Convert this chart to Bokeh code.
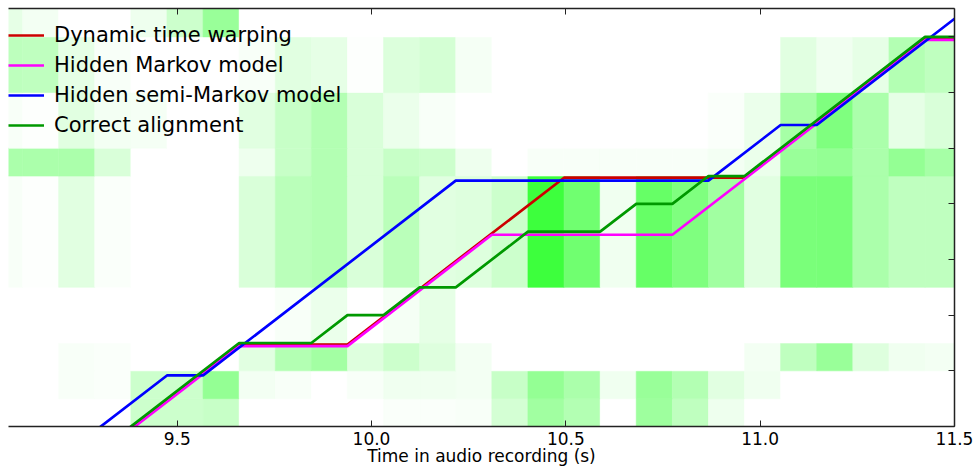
from bokeh.plotting import figure
from bokeh.models import (Range1d, LinearAxis, FixedTicker, PrintfTickFormatter,
                          Legend, LegendItem, ColumnDataSource, CustomLabelingPolicy)
from bokeh.transform import linear_cmap
from bokeh.embed import file_html
from bokeh.resources import INLINE

# Analysis frames: hop of 2048 samples at 22.05 kHz
HOP = 2048 / 22050
frames = list(range(97, 124))          # one column per frame

# Score-position rows (lower, upper edge) and per-frame observation likelihoods
row_edges = [(0.0, 0.5), (0.5, 1.0), (1.0, 1.5), (1.5, 2.5), (2.5, 4.5),
             (4.5, 5.0), (5.0, 6.0), (6.0, 7.0), (7.0, 8.0)]
row_a = [0, 0, 0, 0, .20, .20, .22, 0, 0, 0, 0, .02, .02, .03, .17, .37, .30, 0, .38, .25, .07, 0, 0, 0, 0, 0, 0]
row_b = [0, 0, .03, .02, .20, .20, .42, .05, .03, 0, .03, .06, .06, .05, .22, .42, .33, .06, .40, .30, .12, .06, 0, 0, 0, 0, 0]
row_c = [0, 0, .03, .02, 0, 0, 0, .12, .30, .36, .13, .20, .13, .05, 0, 0, 0, 0, 0, 0, 0, .05, .25, .40, .13, .06, .05]
row_d = [0, 0, 0, 0, 0, 0, 0, 0, .03, .08, 0, .04, .10, 0, 0, 0, 0, 0, 0, 0, 0, 0, 0, 0, 0, 0, 0]
row_e = [.03, .01, .12, .02, 0, 0, 0, .15, .27, .30, .15, .27, .12, .13, .20, .76, .56, .06, .60, .50, .37, .12, .52, .53, .33, .25, .25]
row_f = [.33, .33, .33, .15, 0, 0, 0, .07, .22, .30, .15, .22, .20, .07, 0, .03, .03, .03, .03, .03, .05, .08, .40, .42, .33, .42, .35]
row_g = [.03, .01, .12, .05, .04, 0, 0, .12, .22, .30, .15, .08, .03, 0, 0, 0, 0, 0, 0, 0, .02, .08, .35, .50, .33, .10, .15]
row_h = [.26, .25, .10, .03, 0, 0, 0, .03, .12, .10, .01, .14, .17, .04, 0, 0, 0, 0, 0, 0, 0, 0, .12, .06, .10, .30, .25]
row_i = [.10, .05, 0, 0, .07, .20, .40, 0, 0, 0, 0, 0, 0, 0, 0, 0, 0, 0, 0, 0, 0, 0, 0, 0, 0, 0, 0]
rows = [row_a, row_b, row_c, row_d, row_e, row_f, row_g, row_h, row_i]

# Alignment paths: (frame, score position) vertices
dtw_frames = [100, 104, 107, 113, 118, 123, 125]
dtw_pos = [-0.5, 1.5, 1.5, 4.5, 4.5, 7.0, 7.0]
hmm_frames = [100, 104, 107, 111, 116, 123, 125]
hmm_pos = [-0.5, 1.5, 1.5, 3.5, 3.5, 7.0, 7.0]
hsmm_frames = [99, 102, 103, 110, 117, 119, 120, 125]
hsmm_pos = [-0.5, 1.0, 1.0, 4.5, 4.5, 5.5, 5.5, 8.0]
true_frames = [100, 104, 106, 107, 108, 109, 110, 112, 114, 115, 116, 117, 118, 123, 125]
true_pos = [-0.5, 1.5, 1.5, 2.0, 2.0, 2.5, 2.5, 3.5, 3.5, 4.0, 4.0, 4.5, 4.5, 7.0, 7.0]

x_ticks = [9.5, 10.0, 10.5, 11.0, 11.5]

FONT = "DejaVu Sans"
SPINE = "#222222"

p = figure(width=975, height=468, output_backend="svg", toolbar_location=None,
           x_range=Range1d(9.066, 11.5), y_range=Range1d(0, 7.51),
           y_axis_location=None, min_border_left=8, min_border_right=21,
           min_border_top=8, min_border_bottom=41)
p.outline_line_color = None
p.grid.visible = False
p.background_fill_color = "white"
p.border_fill_color = "white"

# heatmap of likelihoods
left, right, bottom, top, val = [], [], [], [], []
for (lo, hi), vals in zip(row_edges, rows):
    for f, v in zip(frames, vals):
        left.append(f * HOP)
        right.append((f + 1) * HOP)
        bottom.append(lo)
        top.append(hi)
        val.append(v)
src = ColumnDataSource(dict(left=left, right=right, bottom=bottom, top=top, val=val))
palette = ["#%02xff%02x" % (255 - i, 255 - i) for i in range(256)]
cmap = linear_cmap("val", palette, 0, 1)
p.quad(left="left", right="right", bottom="bottom", top="top", source=src,
       fill_color=cmap, line_color=cmap, line_width=0.6)

# alignment paths, nudged slightly so overlapping segments stay visible
series = [
    ("Dynamic time warping", dtw_frames, dtw_pos, "#cc0000", -0.03),
    ("Hidden Markov model", hmm_frames, hmm_pos, "#ff00ff", -0.055),
    ("Hidden semi-Markov model", hsmm_frames, hsmm_pos, "#0000ff", -0.083),
    ("Correct alignment", true_frames, true_pos, "#009900", 0.0),
]
items = []
for name, fr, pos, color, nudge in series:
    r = p.line([f * HOP for f in fr], [y + nudge for y in pos],
               line_color=color, line_width=2.7)
    items.append(LegendItem(label=name, renderers=[r]))

legend = Legend(items=items, location=(0, 286), margin=0, padding=0, spacing=0,
                glyph_width=36, glyph_height=30, label_height=30, label_standoff=10,
                label_text_font=FONT, label_text_font_size="21px",
                label_text_color="black",
                background_fill_alpha=0, border_line_alpha=0)
p.add_layout(legend, "center")

# bottom axis
ax = p.xaxis[0]
ax.ticker = FixedTicker(ticks=x_ticks)
ax.formatter = PrintfTickFormatter(format="%.1f")
ax.minor_tick_line_color = None
ax.major_tick_in = 6
ax.major_tick_out = 0
ax.major_label_standoff = 5
ax.major_label_text_font = FONT
ax.major_label_text_font_size = "17px"
ax.major_label_text_color = "black"
ax.axis_label = "Time in audio recording (s)"
ax.axis_label_standoff = -2
ax.axis_label_text_font = FONT
ax.axis_label_text_font_size = "17px"
ax.axis_label_text_font_style = "normal"
ax.axis_label_text_color = "black"
ax.axis_line_color = SPINE
ax.major_tick_line_color = SPINE
ax.axis_line_width = 1.5

# spines with inward ticks and no labels on the top and right
no_labels = CustomLabelingPolicy(
    code="for (const i of Array.from(indices)) { indices.unset(i) } return indices")

def bare_axis(axis):
    axis.minor_tick_line_color = None
    axis.major_tick_in = 6
    axis.major_tick_out = 0
    axis.major_label_policy = no_labels
    axis.major_label_text_font_size = "0px"
    axis.major_label_standoff = 0
    axis.axis_line_color = SPINE
    axis.major_tick_line_color = SPINE
    axis.axis_line_width = 1.5
    return axis

top_axis = bare_axis(LinearAxis(ticker=FixedTicker(ticks=x_ticks)))
p.add_layout(top_axis, "above")
right_axis = bare_axis(LinearAxis(ticker=FixedTicker(ticks=list(range(0, 8)))))
p.add_layout(right_axis, "right")

open("out.html", "w").write(file_html(p, INLINE))
